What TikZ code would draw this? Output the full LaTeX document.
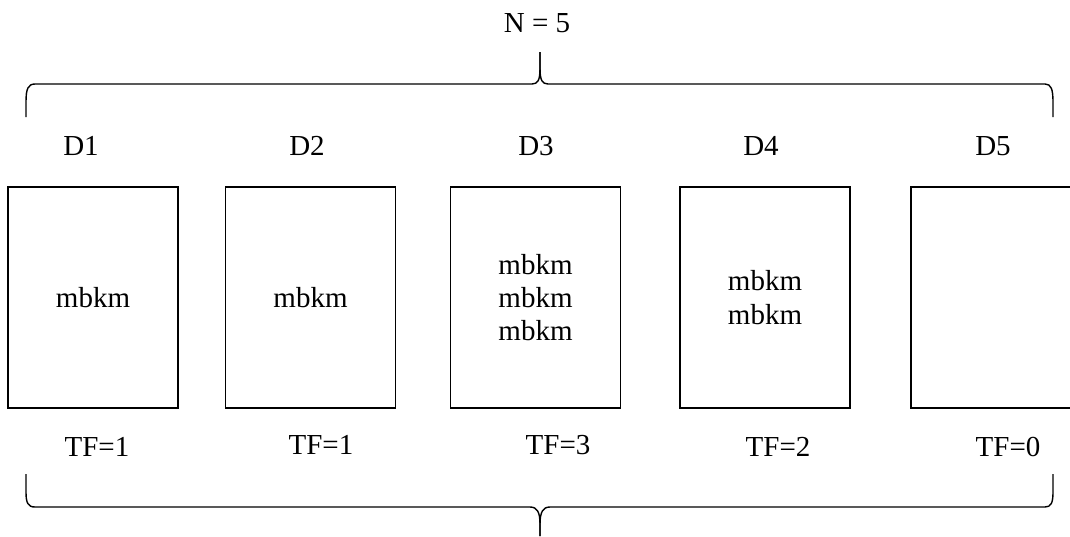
\documentclass[tikz,border=0pt]{standalone}
\usepackage{fontspec}
\setmainfont{Liberation Serif}
\begin{document}
\begin{tikzpicture}[x=0.5pt,y=-0.5pt,
  txt/.style={font=\fontsize{14.5}{16.6}\selectfont},
  docbox/.style={draw, line width=0.75pt, minimum width=85pt, minimum height=110.5pt,
                 inner sep=0pt, align=center, txt},
  lbl/.style={inner sep=0pt, txt},
  bracepath/.style={draw, line width=0.7pt, line join=round}]
\useasboundingbox (0,0) rectangle (1070,536);
\clip (0,0) rectangle (1070,536);
\fill[white] (0,0) rectangle (1070,536);

% total count above the collection
\node[lbl] (total) at (537,23) {N = 5};

% brace spanning all documents (top)
\coordinate (ttip) at (540,52);
\draw[bracepath] (26,117) -- (26,102) .. controls (26,89) and (28,84) .. (35,84)
  -- (532,84) .. controls (538,84) and (540,80) .. (540,68) -- (ttip);
\draw[bracepath] (ttip) -- (540,68) .. controls (540,80) and (542,84) .. (548,84)
  -- (1045,84) .. controls (1051,84) and (1053,89) .. (1053,102) -- (1053,117);

% document names
\node[lbl] (n1) at (81,146)  {D1};
\node[lbl] (n2) at (307,146) {D2};
\node[lbl] (n3) at (536,146) {D3};
\node[lbl] (n4) at (761,146) {D4};
\node[lbl] (n5) at (993,146) {D5};

% documents with their term occurrences
\node[docbox] (d1) at (93,297.5)    {mbkm};
\node[docbox] (d2) at (310.5,297.5) {mbkm};
\node[docbox] (d3) at (535.5,297.5) {mbkm\\mbkm\\mbkm};
\node[docbox] (d4) at (765,297.5)   {mbkm\\mbkm};
\node[docbox] (d5) at (996,297.5)   {};

% term frequencies
\node[lbl] (tf1) at (97,447)  {TF=1};
\node[lbl] (tf2) at (321,445) {TF=1};
\node[lbl] (tf3) at (558,445) {TF=3};
\node[lbl] (tf4) at (778,447) {TF=2};
\node[lbl] (tf5) at (1008,447) {TF=0};

% brace spanning all documents (bottom)
\coordinate (btip) at (540,536);
\draw[bracepath] (26,474) -- (26,492) .. controls (26,503) and (28,507) .. (35,507)
  -- (530,507) .. controls (537,507) and (540,512) .. (540,524) -- (btip);
\draw[bracepath] (btip) -- (540,524) .. controls (540,512) and (543,507) .. (550,507)
  -- (1045,507) .. controls (1051,507) and (1053,503) .. (1053,492) -- (1053,474);
\end{tikzpicture}
\end{document}
